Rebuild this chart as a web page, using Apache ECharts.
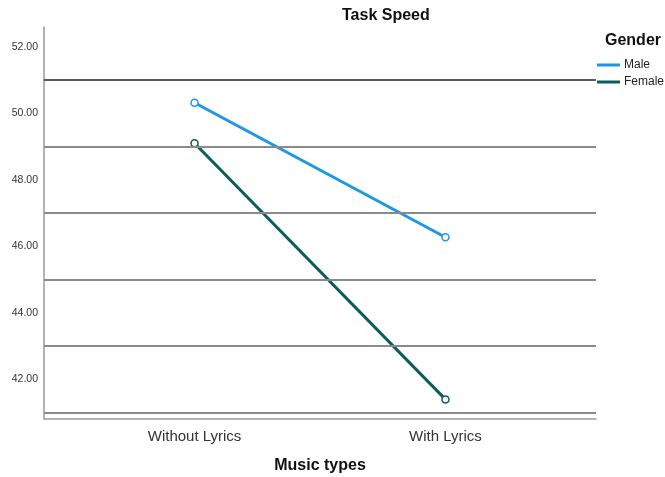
<!DOCTYPE html>
<html>
<head>
<meta charset="utf-8">
<title>Task Speed</title>
<script src="https://cdn.jsdelivr.net/npm/echarts@6/dist/echarts.min.js"></script>
<style>
  html, body { margin: 0; padding: 0; background: #fff; }
  #chart { width: 665px; height: 477px; }
</style>
</head>
<body>
<div id="chart"></div>
<script>
/* Veriler */
const categories = ['Without Lyrics', 'With Lyrics'];
const maleValues = [50.32, 46.27];
const femaleValues = [49.10, 41.39];
const gridValues = [41, 43, 45, 47, 49, 51];
const seriesNames = ['Male', 'Female'];
const seriesColors = ['#1e97e8', '#0a5d5a'];

const FONT = '"Liberation Sans", Arial, sans-serif';

/* Kategori indeksini x konumu olarak kullan */
function toPoints(values) {
  return values.map((v, i) => [i, v]);
}

function isWhole(v) {
  return Math.abs(v - Math.round(v)) < 1e-6;
}

const chart = echarts.init(document.getElementById('chart'), null, { renderer: 'canvas' });

function lineSeries(name, values, color) {
  return {
    name,
    type: 'line',
    data: toPoints(values),
    z: 3,
    symbol: 'circle',
    symbolSize: 7,
    itemStyle: { color: '#fff', borderColor: color, borderWidth: 1.5 },
    lineStyle: { color, width: 3 },
    emphasis: { disabled: true },
  };
}

chart.setOption({
  animation: false,
  backgroundColor: '#fff',
  textStyle: { fontFamily: FONT },
  title: [
    {
      text: 'Task Speed',
      left: 342,
      top: 8,
      padding: 0,
      textStyle: { fontFamily: FONT, fontSize: 16, fontWeight: 'bold', color: '#111' },
    },
    {
      text: 'Gender',
      left: 605,
      top: 33,
      padding: 0,
      textStyle: { fontFamily: FONT, fontSize: 16, fontWeight: 'bold', color: '#111' },
    },
  ],
  legend: {
    data: seriesNames.map((n, i) => ({
      name: n,
      itemStyle: { color: seriesColors[i], borderWidth: 0 },
    })),
    orient: 'vertical',
    left: 597,
    top: 59,
    padding: 0,
    itemWidth: 23,
    itemHeight: 3,
    itemGap: 5,
    icon: 'rect',
    textStyle: { fontFamily: FONT, fontSize: 12, color: '#222', padding: [0, 0, 0, -1] },
    selectedMode: false,
  },
  grid: { left: 44, right: 69, top: 27, bottom: 58, containLabel: false, outerBoundsMode: 'none' },
  xAxis: {
    type: 'value',
    min: -0.6,
    max: 1.6,
    interval: 0.2,
    axisLine: { show: true, onZero: false, lineStyle: { color: '#9a9a9a', width: 1.5 } },
    axisTick: { show: false },
    splitLine: { show: false },
    axisLabel: {
      margin: 10,
      fontSize: 15,
      color: '#333',
      fontFamily: FONT,
      formatter: (v) => (isWhole(v) && categories[Math.round(v)]) ? categories[Math.round(v)] : '',
    },
    name: 'Music types',
    nameLocation: 'middle',
    nameGap: 39,
    nameTextStyle: { fontFamily: FONT, fontSize: 16, fontWeight: 'bold', color: '#111' },
  },
  yAxis: {
    type: 'value',
    min: 40.8,
    max: 52.6,
    interval: 0.2,
    axisLine: { show: true, onZero: false, lineStyle: { color: '#9a9a9a', width: 1.5 } },
    axisTick: { show: false },
    splitLine: { show: false },
    axisLabel: {
      margin: 6,
      fontSize: 10.5,
      color: '#333',
      fontFamily: FONT,
      formatter: (v) => (isWhole(v) && Math.round(v) % 2 === 0) ? Math.round(v).toFixed(2) : '',
    },
  },
  series: [
    {
      name: 'grid',
      type: 'line',
      data: [],
      z: 1,
      silent: true,
      markLine: {
        silent: true,
        symbol: 'none',
        label: { show: false },
        emphasis: { disabled: true },
        data: gridValues.map((g) => ({
          yAxis: g,
          lineStyle: {
            type: 'solid',
            width: g === 51 ? 1.5 : 2,
            color: g === 51 ? '#222' : '#8a8a8a',
          },
        })),
      },
    },
    lineSeries(seriesNames[0], maleValues, seriesColors[0]),
    lineSeries(seriesNames[1], femaleValues, seriesColors[1]),
  ],
});
</script>
</body>
</html>
